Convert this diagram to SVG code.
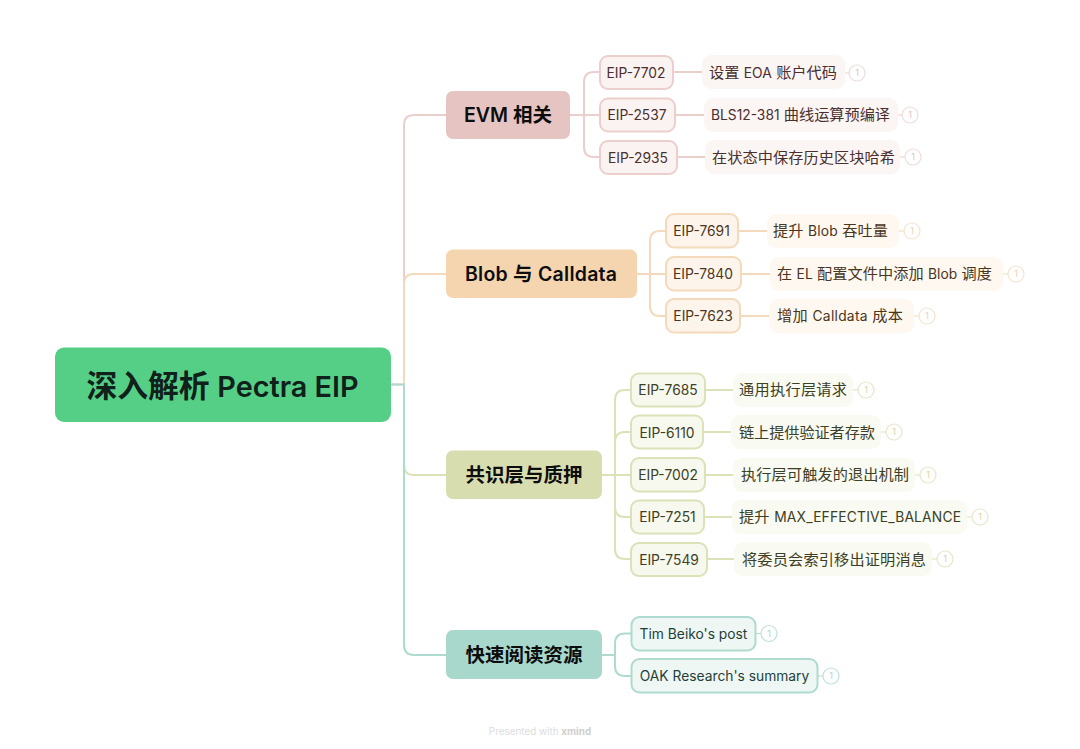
<svg xmlns="http://www.w3.org/2000/svg" width="1080" height="749" viewBox="0 0 1080 749">
<style>
text{font-family:"Inter","Noto Sans CJK SC",sans-serif;text-anchor:middle}
.root{font-size:30.8px;font-weight:600;fill:#10201a}
.root tspan{font-size:28.8px}
.br{font-size:19.5px;font-weight:600;fill:#0d0d0d}
.sub{font-size:13.8px}
.lf{font-size:15.2px}
.la{font-size:13.8px}
.n{font-size:9px}
.c{fill:none;stroke-width:2}
.w{stroke-width:1.2}
.p .c{stroke:#EBCFCD}.o .c{stroke:#F4DABC}.g .c{stroke:#DDE1B8}.t .c{stroke:#AEDAD0}
.ps{fill:#FBF3F1;stroke:#EBCFCD;stroke-width:2}.pl{fill:#FBF5F3}.pt{fill:#4a2f2e}.pk{stroke:#EFDCDA;fill:#fff;stroke-width:1.2}.pn{fill:#DDBFBD}
.os{fill:#FDF5EB;stroke:#F4DABC;stroke-width:2}.ol{fill:#FEF8F1}.ot{fill:#4a3520}.ok{stroke:#F6E4CE;fill:#fff;stroke-width:1.2}.on{fill:#EBD2B2}
.gs{fill:#F7F8EE;stroke:#DDE1B8;stroke-width:2}.gl{fill:#F9FAF2}.gt{fill:#3c4024}.gk{stroke:#E4E7C9;fill:#fff;stroke-width:1.2}.gn{fill:#D0D5AC}
.ts{fill:#EFF7F5;stroke:#AEDAD0;stroke-width:2}.tt{fill:#1f3f38}.tk{stroke:#BFE1D9;fill:#fff;stroke-width:1.2}.tn{fill:#A8D6CB}
</style>
<rect width="1080" height="749" fill="#fff"/>
<g id="connectors">
<g class="p"><path class="c" d="M391 384.5H404V125Q404 115 414 115H446"/></g>
<g class="o"><path class="c" d="M404 384.5V284Q404 274 414 274H446"/></g>
<g class="g"><path class="c" d="M404 384.5V465Q404 475 414 475H446"/></g>
<g class="t"><path class="c" d="M391 384.5H404V645Q404 655 414 655H446"/></g>
<g class="p"><path class="c" d="M570 115H600M600 72H594Q584 72 584 82V147Q584 157 594 157H600M673 72H702M675 115H704M677 157H705"/>
<path class="c w" d="M845 73H849M898 115H902M900 157H905"/></g>
<g class="o"><path class="c" d="M637 274H666M666 231H660Q650 231 650 241V306Q650 316 660 316H666M738 231H767M741 274H770M740 316H769"/>
<path class="c w" d="M899 231H904M1003 274H1008M914 316H919"/></g>
<g class="g"><path class="c" d="M602 475H631M631 390H625Q615 390 615 400V549Q615 559 625 559H631M631 432H625Q615 432 615 442M615 507Q615 517 625 517H631M705 390H733M703 432H731M705 475H733M704 517H732M707 559H734"/>
<path class="c w" d="M853 390H858M881 432H886M915 475H920M967 517H972M932 559H937"/></g>
<g class="t"><path class="c" d="M602 655H615M631 633.5H625Q615 633.5 615 643.5V666Q615 676 625 676H631"/>
<path class="c w" d="M756 633.5H761M818 676H823"/></g>
</g>
<g id="root"><rect x="55" y="347.5" width="336" height="74.5" rx="9" fill="#55CF86"/><text class="root" x="222.5" y="396.5">深入解析 <tspan>Pectra EIP</tspan></text></g>

<g id="evm"><rect x="446" y="91" width="124" height="48" rx="7" fill="#E6C4C2"/><text class="br" x="508" y="122">EVM 相关</text></g>
<g id="blob"><rect x="446" y="249.5" width="191" height="48.5" rx="7" fill="#F5D5B0"/><text class="br" x="541" y="281" textLength="152">Blob 与 Calldata</text></g>
<g id="consensus"><rect x="446" y="450.5" width="156" height="48.5" rx="7" fill="#D8DDB0"/><text class="br" x="524" y="482">共识层与质押</text></g>
<g id="resources"><rect x="446" y="630" width="156" height="49" rx="7" fill="#A8D8CC"/><text class="br" x="524" y="662">快速阅读资源</text></g>

<g id="eip7702"><rect class="ps" x="600" y="56" width="73" height="33" rx="8"/><text class="sub pt" x="636" y="77.5">EIP-7702</text></g>
<g id="eip2537"><rect class="ps" x="600" y="98.5" width="75" height="33" rx="8"/><text class="sub pt" x="637" y="120">EIP-2537</text></g>
<g id="eip2935"><rect class="ps" x="600" y="141" width="77" height="33" rx="8"/><text class="sub pt" x="638" y="162.5">EIP-2935</text></g>
<g id="leaf7702"><rect class="pl" x="702" y="55" width="143" height="34" rx="9"/><text class="lf pt" x="773" y="77.5" textLength="128">设置 <tspan class="la">EOA</tspan> 账户代码</text><circle class="pk" cx="857" cy="73" r="8"/><text class="n pn" x="857" y="76">1</text></g>
<g id="leaf2537"><rect class="pl" x="704" y="98" width="194" height="34" rx="9"/><text class="lf pt" x="800.5" y="120" textLength="179"><tspan class="la">BLS12-381</tspan> 曲线运算预编译</text><circle class="pk" cx="910" cy="115" r="8"/><text class="n pn" x="910" y="118">1</text></g>
<g id="leaf2935"><rect class="pl" x="705" y="140" width="195" height="34" rx="9"/><text class="lf pt" x="803.5" y="162.5" textLength="183">在状态中保存历史区块哈希</text><circle class="pk" cx="913" cy="157" r="8"/><text class="n pn" x="913" y="160">1</text></g>

<g id="eip7691"><rect class="os" x="666" y="214" width="72" height="33.5" rx="8"/><text class="sub ot" x="701.5" y="236">EIP-7691</text></g>
<g id="eip7840"><rect class="os" x="666" y="257" width="75" height="33.5" rx="8"/><text class="sub ot" x="703" y="279">EIP-7840</text></g>
<g id="eip7623"><rect class="os" x="666" y="299" width="74" height="33.5" rx="8"/><text class="sub ot" x="703" y="321">EIP-7623</text></g>
<g id="leaf7691"><rect class="ol" x="767" y="214" width="132" height="34" rx="9"/><text class="lf ot" x="830.5" y="236" textLength="115">提升 <tspan class="la">Blob</tspan> 吞吐量</text><circle class="ok" cx="912" cy="231" r="8"/><text class="n on" x="912" y="234">1</text></g>
<g id="leaf7840"><rect class="ol" x="770" y="257" width="233" height="34" rx="9"/><text class="lf ot" x="884.5" y="279" textLength="215">在 <tspan class="la">EL</tspan> 配置文件中添加 <tspan class="la">Blob</tspan> 调度</text><circle class="ok" cx="1016" cy="274" r="8"/><text class="n on" x="1016" y="277">1</text></g>
<g id="leaf7623"><rect class="ol" x="769" y="299" width="145" height="34" rx="9"/><text class="lf ot" x="840" y="321" textLength="126">增加 <tspan class="la">Calldata</tspan> 成本</text><circle class="ok" cx="927" cy="316" r="8"/><text class="n on" x="927" y="319">1</text></g>

<g id="eip7685"><rect class="gs" x="631" y="373.5" width="74" height="33" rx="8"/><text class="sub gt" x="668" y="395">EIP-7685</text></g>
<g id="eip6110"><rect class="gs" x="631" y="415.5" width="72" height="33" rx="8"/><text class="sub gt" x="667" y="437.5">EIP-6110</text></g>
<g id="eip7002"><rect class="gs" x="631" y="458" width="74" height="33.5" rx="8"/><text class="sub gt" x="668" y="480">EIP-7002</text></g>
<g id="eip7251"><rect class="gs" x="631" y="500.5" width="73" height="33" rx="8"/><text class="sub gt" x="667.5" y="522">EIP-7251</text></g>
<g id="eip7549"><rect class="gs" x="631" y="543" width="76" height="33" rx="8"/><text class="sub gt" x="669" y="564.5">EIP-7549</text></g>
<g id="leaf7685"><rect class="gl" x="733" y="373" width="120" height="34" rx="9"/><text class="lf gt" x="793" y="395" textLength="108">通用执行层请求</text><circle class="gk" cx="866" cy="390" r="8"/><text class="n gn" x="866" y="393">1</text></g>
<g id="leaf6110"><rect class="gl" x="731" y="415" width="150" height="34" rx="9"/><text class="lf gt" x="807" y="437.5" textLength="136">链上提供验证者存款</text><circle class="gk" cx="894" cy="432" r="8"/><text class="n gn" x="894" y="435">1</text></g>
<g id="leaf7002"><rect class="gl" x="733" y="458" width="182" height="34" rx="9"/><text class="lf gt" x="825" y="480" textLength="168">执行层可触发的退出机制</text><circle class="gk" cx="928" cy="475" r="8"/><text class="n gn" x="928" y="478">1</text></g>
<g id="leaf7251"><rect class="gl" x="732" y="500" width="235" height="34" rx="9"/><text class="lf gt" x="850" y="522" textLength="222">提升 <tspan class="la">MAX_EFFECTIVE_BALANCE</tspan></text><circle class="gk" cx="980" cy="517" r="8"/><text class="n gn" x="980" y="520">1</text></g>
<g id="leaf7549"><rect class="gl" x="734" y="542" width="198" height="34" rx="9"/><text class="lf gt" x="834" y="564.5" textLength="184">将委员会索引移出证明消息</text><circle class="gk" cx="945" cy="559" r="8"/><text class="n gn" x="945" y="562">1</text></g>

<g id="tim"><rect class="ts" x="631.5" y="617" width="124" height="33.5" rx="8"/><text class="sub tt" x="693.5" y="639">Tim Beiko's post</text><circle class="tk" cx="769" cy="633.5" r="8"/><text class="n tn" x="769" y="636.5">1</text></g>
<g id="oak"><rect class="ts" x="631.5" y="659" width="186" height="33.5" rx="8"/><text class="sub tt" x="724.5" y="681">OAK Research's summary</text><circle class="tk" cx="831" cy="676" r="8"/><text class="n tn" x="831" y="679">1</text></g>

<g id="footer"><text x="540" y="734.5" style="font-size:9.9px;fill:#dcdcdc">Presented with <tspan font-weight="700" fill="#cfcfcf">xmind</tspan></text></g>
</svg>
